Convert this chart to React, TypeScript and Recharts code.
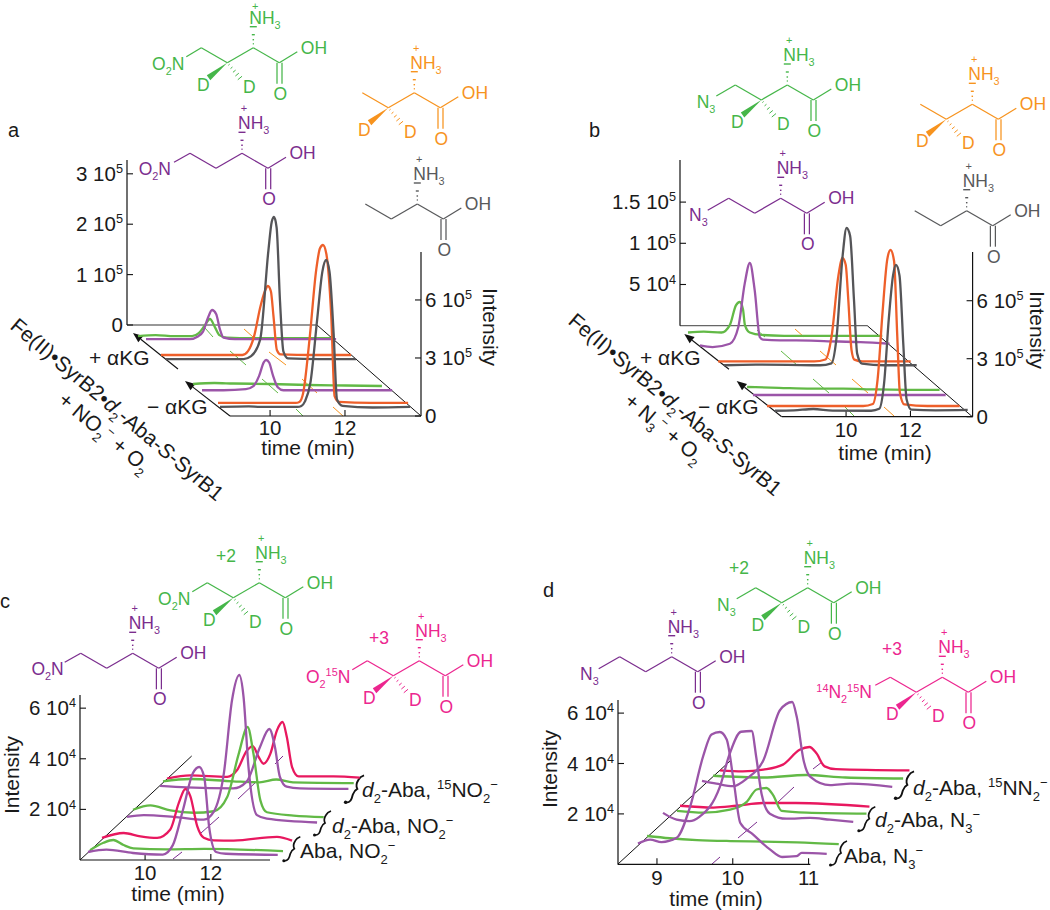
import React from "react";
import { ComposedChart, LineChart, Line, XAxis, YAxis } from "recharts";

const FONT = "'Liberation Sans', Arial, sans-serif";
const GREEN = "#62b946", ORANGE = "#ee5f2a", PURPLE = "#9b55a8", GRAY = "#555558", PINK = "#e8185f";
const M_GREEN = "#45b649", M_ORANGE = "#f7931e", M_PURPLE = "#7b2d8e", M_GRAY = "#58595b", M_PINK = "#ec268f";

// ---- panel a traces (time in min, intensity in 1e5) ----
const aGreenPlusT = [8.93, 9.4, 9.9, 10.37, 10.55, 10.7, 10.85, 10.98, 11.1, 11.3, 12, 13, 14.1];
const aGreenPlusI = [0, 0.02, 0, 0, 0.06, 0.2, 0.34, 0.18, 0.02, -0.03, -0.04, -0.04, -0.04];
const aPurplePlusT = [8.93, 9.5, 10.1, 10.3, 10.45, 10.58, 10.69, 10.8, 10.9, 11.0, 11.3, 12, 13, 14.0];
const aPurplePlusI = [0, 0, 0, 0.05, 0.15, 0.42, 0.58, 0.5, 0.2, 0.03, 0, 0, 0, 0];
const aOrangePlusT = [8.93, 10, 11.1, 11.25, 11.41, 11.58, 11.7, 11.78, 11.86, 11.93, 12.02, 12.12, 13, 14.0];
const aOrangePlusI = [0, 0, 0, 0.2, 0.95, 2.5, 3.3, 3.57, 3.3, 2, 0.26, 0.03, 0, 0];
const aGrayPlusT = [8.93, 10, 11, 11.2, 11.44, 11.66, 11.75, 11.81, 11.88, 11.97, 12.06, 12.18, 13, 14];
const aGrayPlusI = [0, 0, 0, 0.15, 1, 5.6, 7.1, 7.35, 6.8, 3, 0.4, 0.04, 0, 0];
const aGreenMinusT = [8.93, 9.5, 10, 11, 12, 13, 13.97];
const aGreenMinusI = [0, 0.02, 0.01, 0, -0.02, -0.03, -0.04];
const aPurpleMinusT = [8.93, 9.5, 10.1, 10.3, 10.45, 10.58, 10.64, 10.72, 10.82, 10.95, 11.1, 12, 13, 14];
const aPurpleMinusI = [0, 0, 0.02, 0.08, 0.28, 0.56, 0.6, 0.55, 0.3, 0.06, 0, 0, 0, 0];
const aOrangeMinusT = [8.93, 10, 11, 11.1, 11.2, 11.37, 11.55, 11.65, 11.73, 11.82, 11.95, 12.04, 12.15, 13, 14];
const aOrangeMinusI = [0, 0, 0, 0.05, 0.5, 3.28, 6.9, 8, 8.17, 7.7, 4.5, 0.35, 0.05, 0, 0];
const aGrayMinusT = [8.93, 9.7, 10, 11, 11.1, 11.2, 11.34, 11.52, 11.66, 11.76, 11.85, 11.96, 12.05, 12.2, 13, 14];
const aGrayMinusI = [0, 0.03, 0, 0, 0.05, 0.3, 1.24, 4.5, 7, 7.6, 7, 3.8, 0.38, 0.05, -0.03, 0];

// ---- panel b traces (time in min, intensity in 1e5) ----
const bGreenPlusT = [8.01, 8.5, 9.05, 9.31, 9.5, 9.62, 9.72, 9.78, 9.93, 10.3, 11, 12, 13, 14.05];
const bGreenPlusI = [0, 0.01, 0, 0.09, 0.33, 0.37, 0.28, 0.09, 0, -0.03, -0.04, -0.04, -0.04, -0.04];
const bPurplePlusT = [8.01, 8.4, 8.94, 9.2, 9.4, 9.56, 9.71, 9.87, 9.97, 10.5, 11, 12, 13, 13.9];
const bPurplePlusI = [0, -0.02, 0.02, 0.22, 0.75, 1.0, 0.67, 0.1, 0.07, 0.06, 0.06, 0.05, 0.04, 0.02];
const bOrangePlusT = [8.01, 9.5, 11, 11.35, 11.54, 11.75, 11.88, 11.98, 12.06, 12.16, 12.25, 12.5, 13, 14];
const bOrangePlusI = [0, 0, 0, 0.1, 1.29, 4.4, 5.35, 5, 3.2, 0.6, 0.09, 0, 0, 0];
const bGrayPlusT = [8.01, 9, 10, 11, 11.35, 11.5, 11.7, 11.82, 11.93, 12.05, 12.15, 12.3, 13, 14];
const bGrayPlusI = [0, 0.03, 0.02, 0, 0.1, 1.3, 5.7, 7.1, 6.7, 3.4, 0.6, 0.08, 0, 0];
const bGreenMinusT = [8.01, 9, 10, 11, 12, 13, 14];
const bGreenMinusI = [0, -0.01, -0.02, -0.02, -0.03, -0.035, -0.036];
const bPurpleMinusT = [8.01, 9, 10, 11, 12, 13, 14];
const bPurpleMinusI = [0, 0, 0, 0, 0, 0, 0];
const bOrangeMinusT = [8.01, 9.5, 11, 11.3, 11.45, 11.6, 11.75, 11.85, 11.96, 12.06, 12.14, 12.28, 13, 14];
const bOrangeMinusI = [0, 0, 0, 0.1, 1.4, 4.8, 7.6, 8.07, 7.5, 3.6, 0.7, 0.08, 0, 0];
const bGrayMinusT = [8.01, 8.6, 9.2, 9.8, 11, 11.25, 11.4, 11.55, 11.68, 11.77, 11.88, 12, 12.1, 12.25, 13, 14];
const bGrayMinusI = [0, 0.02, 0.09, 0.01, 0, 0.1, 1.4, 4.8, 7, 7.54, 7, 3.4, 0.6, 0.06, 0.02, 0.04];

// ---- panel c traces (time in min, intensity in 1e4) ----
const cPurple1T = [8.02, 8.58, 9.39, 10.3, 10.6, 10.91, 11.21, 11.41, 11.56, 11.71, 11.92, 12.22, 13.8];
const cPurple1I = [0.07, 0.16, 0.03, -0.03, 0.33, 1.72, 3.17, 3.43, 3.03, 1.06, 0.07, 0, -0.04];
const cGreen1T = [8.02, 8.43, 8.73, 9.04, 9.34, 10.35, 11.5, 13.9];
const cGreen1I = [-0.07, 0.22, 0.33, 0.13, 0, -0.04, -0.02, -0.11];
const cPink1T = [8.02, 8.68, 9.19, 9.7, 10.1, 10.36, 10.56, 10.71, 10.92, 11.12, 11.42, 12.03, 13.35, 13.81];
const cPink1I = [0.07, 0.26, 0.13, 0.07, 0.4, 1.45, 2, 1.72, 0.53, 0.07, -0.03, -0.04, 0.11, -0.04];
const cPurple2T = [8.02, 8.53, 9.44, 10.36, 10.66, 10.97, 11.22, 11.44, 11.57, 11.72, 11.98, 12.28, 13.81];
const cPurple2I = [0, 0.07, 0, -0.11, 0.2, 1.72, 4.62, 5.61, 4.75, 1.98, 0.07, -0.07, -0.22];
const cGreen2T = [8.02, 8.55, 9.16, 9.87, 10.48, 10.89, 11.24, 11.51, 11.69, 11.9, 12.1, 12.91, 13.83];
const cGreen2I = [0.03, 0.2, 0, -0.09, -0.03, 0.53, 2.24, 3.3, 2.24, 0.4, -0.07, -0.2, -0.26];
const cPurple3T = [8.02, 8.83, 10.25, 10.66, 11.07, 11.35, 11.52, 11.67, 11.88, 12.28, 13.76];
const cPurple3I = [0.03, -0.03, -0.07, 0.2, 1.58, 2.28, 1.58, 0.4, 0, -0.07, -0.09];
const cGreen3T = [8.02, 8.83, 10.15, 10.96, 11.47, 11.98, 13.83];
const cGreen3I = [0, 0.09, 0, -0.04, 0.07, -0.04, -0.07];
const cPink3T = [8.02, 8.73, 9.85, 10.15, 10.46, 10.63, 10.81, 10.96, 11.17, 11.37, 11.54, 11.67, 11.83, 12.03, 13.09, 13.89];
const cPink3I = [0, 0.13, 0.07, 0.33, 1.12, 1.29, 0.86, 0.59, 0.99, 1.91, 2.24, 1.65, 0.46, 0.09, 0.09, 0.04];

// ---- panel d traces (time in min, intensity in 1e4) ----
const dPurple1T = [8.49, 8.65, 8.8, 9.0, 9.18, 9.35, 9.46, 9.57, 9.66, 9.75, 9.84, 10.01, 10.23, 10.39, 10.58, 10.65, 10.98];
const dPurple1I = [-0.03, 0.13, 0.03, 0.2, 1.46, 3.44, 4.3, 4.4, 4.1, 2.5, 0.79, 0.33, -0.26, -0.56, -0.53, -0.4, -0.44];
const dGreen1T = [8.49, 8.79, 9.15, 9.59, 10.03, 10.47, 11.02];
const dGreen1I = [0, -0.09, -0.16, -0.2, -0.22, -0.25, -0.32];
const dPurple2T = [8.49, 8.67, 8.84, 8.97, 9.24, 9.37, 9.52, 9.66, 9.72, 9.79, 9.9, 10.12, 10.43, 10.69, 11.0];
const dPurple2I = [0.03, -0.24, -0.3, -0.13, 1.06, 2.38, 3.25, 3.28, 2.25, 0.79, 0, -0.2, -0.17, -0.24, -0.33];
const dGreen2T = [8.49, 8.84, 9.19, 9.41, 9.54, 9.67, 9.76, 9.87, 10.2, 10.99];
const dGreen2I = [0, -0.07, 0.05, 0.36, 0.85, 0.91, 0.62, 0, -0.07, -0.11];
const dPink2T = [8.49, 8.93, 9.23, 9.58, 10.02, 10.99];
const dPink2I = [0, -0.07, 0, 0.11, 0.11, -0.03];
const dPurple3T = [8.49, 8.68, 8.9, 9.08, 9.3, 9.52, 9.68, 9.74, 9.83, 9.92, 10.18, 10.45, 11.0];
const dPurple3I = [0.04, -0.07, -0.17, 0.13, 0.86, 2.85, 3.17, 2.58, 0.86, 0.2, -0.13, -0.07, -0.2];
const dGreen3T = [8.49, 9.15, 9.72, 10.24, 11.0];
const dGreen3I = [0, -0.07, 0.03, -0.07, -0.11];
const dPink3T = [8.49, 8.79, 9.06, 9.32, 9.54, 9.67, 9.76, 9.87, 10.02, 10.99];
const dPink3I = [0, -0.04, 0.03, 0.23, 0.82, 0.93, 0.69, 0.16, 0.05, 0];

// ---- axis ticks ----
const aFrontTicks = [0, 3, 6];
const aFrontLabels = ["0", "3 10^5", "6 10^5"];
const aBackTicks = [0, 1, 2, 3];
const aBackLabels = ["0", "1 10^5", "2 10^5", "3 10^5"];
const bBackTicks = [0.5, 1, 1.5];
const bBackLabels = ["5 10^4", "1 10^5", "1.5 10^5"];
const cdTicks = [2, 4, 6];
const cdLabels = ["2 10^4", "4 10^4", "6 10^4"];
const abTimeTicks = [10, 12];
const dTimeTicks = [9, 10, 11];

// ---- layout of each trace on the page (offset of its own baseline) ----
const A_PPM = 37.5, B_PPM = 32.17, C_PPM = 32.83, D_PPM = 75.8;
const layoutA = [
  { t: aGreenPlusT, v: aGreenPlusI, c: GREEN, x0: 138, y0: 336, ppm: A_PPM, ppu: 50.4 },
  { t: aPurplePlusT, v: aPurplePlusI, c: PURPLE, x0: 146, y0: 339, ppm: A_PPM, ppu: 50.4 },
  { t: aOrangePlusT, v: aOrangePlusI, c: ORANGE, x0: 161, y0: 355, ppm: A_PPM, ppu: 19.33 },
  { t: aGrayPlusT, v: aGrayPlusI, c: GRAY, x0: 166, y0: 359, ppm: A_PPM, ppu: 19.33 },
  { t: aGreenMinusT, v: aGreenMinusI, c: GREEN, x0: 193, y0: 384, ppm: A_PPM, ppu: 50.4 },
  { t: aPurpleMinusT, v: aPurpleMinusI, c: PURPLE, x0: 202, y0: 390, ppm: A_PPM, ppu: 50.4 },
  { t: aOrangeMinusT, v: aOrangeMinusI, c: ORANGE, x0: 218, y0: 403, ppm: A_PPM, ppu: 19.33 },
  { t: aGrayMinusT, v: aGrayMinusI, c: GRAY, x0: 220, y0: 407, ppm: A_PPM, ppu: 19.33 },
];
const layoutB = [
  { t: bGreenPlusT, v: bGreenPlusI, c: GREEN, x0: 688.3, y0: 332.7, ppm: B_PPM, ppu: 82.4 },
  { t: bPurplePlusT, v: bPurplePlusI, c: PURPLE, x0: 700, y0: 345, ppm: B_PPM, ppu: 82.4 },
  { t: bOrangePlusT, v: bOrangePlusI, c: ORANGE, x0: 718.3, y0: 361.7, ppm: B_PPM, ppu: 19.33 },
  { t: bGrayPlusT, v: bGrayPlusI, c: GRAY, x0: 724, y0: 365.7, ppm: B_PPM, ppu: 19.33 },
  { t: bGreenMinusT, v: bGreenMinusI, c: GREEN, x0: 747.3, y0: 387, ppm: B_PPM, ppu: 82.4 },
  { t: bPurpleMinusT, v: bPurpleMinusI, c: PURPLE, x0: 752.7, y0: 395, ppm: B_PPM, ppu: 82.4 },
  { t: bOrangeMinusT, v: bOrangeMinusI, c: ORANGE, x0: 767.3, y0: 406, ppm: B_PPM, ppu: 19.33 },
  { t: bGrayMinusT, v: bGrayMinusI, c: GRAY, x0: 775, y0: 410.7, ppm: B_PPM, ppu: 19.33 },
];
const layoutC = [
  { t: cPink3T, v: cPink3I, c: PINK, x0: 166.7, y0: 778.3, ppm: C_PPM, ppu: 25.3 },
  { t: cGreen3T, v: cGreen3I, c: GREEN, x0: 163.3, y0: 781.7, ppm: C_PPM, ppu: 25.3 },
  { t: cPurple3T, v: cPurple3I, c: PURPLE, x0: 160, y0: 786.7, ppm: C_PPM, ppu: 25.3 },
  { t: cGreen2T, v: cGreen2I, c: GREEN, x0: 132.7, y0: 810, ppm: C_PPM, ppu: 25.3 },
  { t: cPurple2T, v: cPurple2I, c: PURPLE, x0: 126.7, y0: 816.7, ppm: C_PPM, ppu: 25.3 },
  { t: cPink1T, v: cPink1I, c: PINK, x0: 101.7, y0: 840, ppm: C_PPM, ppu: 25.3 },
  { t: cGreen1T, v: cGreen1I, c: GREEN, x0: 90, y0: 848.3, ppm: C_PPM, ppu: 25.3 },
  { t: cPurple1T, v: cPurple1I, c: PURPLE, x0: 88.3, y0: 853.3, ppm: C_PPM, ppu: 25.3 },
];
const layoutD = [
  { t: dPink3T, v: dPink3I, c: PINK, x0: 720, y0: 770.7, ppm: D_PPM, ppu: 25.2 },
  { t: dGreen3T, v: dGreen3I, c: GREEN, x0: 713.3, y0: 775.7, ppm: D_PPM, ppu: 25.2 },
  { t: dPurple3T, v: dPurple3I, c: PURPLE, x0: 701.7, y0: 781.7, ppm: D_PPM, ppu: 25.2 },
  { t: dPink2T, v: dPink2I, c: PINK, x0: 680, y0: 806, ppm: D_PPM, ppu: 25.2 },
  { t: dGreen2T, v: dGreen2I, c: GREEN, x0: 676.7, y0: 810.7, ppm: D_PPM, ppu: 25.2 },
  { t: dPurple2T, v: dPurple2I, c: PURPLE, x0: 662.7, y0: 813.3, ppm: D_PPM, ppu: 25.2 },
  { t: dGreen1T, v: dGreen1I, c: GREEN, x0: 646.7, y0: 836, ppm: D_PPM, ppu: 25.2 },
  { t: dPurple1T, v: dPurple1I, c: PURPLE, x0: 637.7, y0: 843.3, ppm: D_PPM, ppu: 25.2 },
];

function Trace({ t, v, c, x0, y0, ppm, ppu }: any) {
  const rows = t.map((time: number, i: number) => ({ t: time, v: v[i] }));
  const tS = t[0], tE = t[t.length - 1];
  const vMax = Math.max(...v), vMin = Math.min(...v);
  const padT = 6 / ppm, padV = 4 / ppu;
  const width = (tE - tS) * ppm + 12, height = (vMax - vMin) * ppu + 8;
  return (
    <div style={{ position: "absolute", left: x0 - 6, top: y0 - vMax * ppu - 4, width, height }}>
      <LineChart width={width} height={height} data={rows} margin={{ top: 0, right: 0, bottom: 0, left: 0 }}>
        <XAxis hide dataKey="t" type="number" domain={[tS - padT, tE + padT]} />
        <YAxis hide type="number" domain={[vMin - padV, vMax + padV]} />
        <Line dataKey="v" type="monotone" stroke={c} strokeWidth={2.3} dot={false} isAnimationActive={false} />
      </LineChart>
    </div>
  );
}

function Rich({ x, y, text, size = 21, fill = "#1a1a1a", anchor = "start", transform }: any) {
  const parts = text.split(/(\{[^}]*\}|\[[^\]]*\]|~[^~]*~)/).filter((p: string) => p !== "");
  let off = 0;
  const spans = parts.map((p: string, i: number) => {
    let target = 0, content = p, fs = size, italic = false;
    if (p[0] === "{") { target = size * 0.28; content = p.slice(1, -1); fs = size * 0.62; }
    else if (p[0] === "[") { target = -size * 0.38; content = p.slice(1, -1); fs = size * 0.62; }
    else if (p[0] === "~") { content = p.slice(1, -1); italic = true; }
    const dy = target - off;
    off = target;
    return <tspan key={i} dy={dy} fontSize={fs} fontStyle={italic ? "italic" : "normal"}>{content}</tspan>;
  });
  return <text x={x} y={y} fontFamily={FONT} fontSize={size} fill={fill} textAnchor={anchor} transform={transform}>{spans}</text>;
}

function yTick(labels: string[], ticks: number[], side: "left" | "right") {
  return (p: any) => {
    const label = labels[ticks.indexOf(p.payload.value)] ?? "";
    const [m, e] = label.split("^");
    const txt = e ? `${m}[${e}]` : m;
    const sign = side === "left" ? 1 : -1;
    return (
      <g>
        <line x1={p.x} x2={p.x + sign * 6} y1={p.y} y2={p.y} stroke="#111" strokeWidth={1.1} />
        <Rich x={side === "left" ? p.x - 4 : p.x + 4} y={p.y + 7} text={txt} size={20.5} anchor={side === "left" ? "end" : "start"} />
      </g>
    );
  };
}

function xTick(drop: number) {
  return (p: any) => (
    <g>
      <line x1={p.x} x2={p.x} y1={p.y} y2={p.y - 6} stroke="#111" strokeWidth={1.1} />
      <text x={p.x} y={p.y + drop} textAnchor="middle" fontFamily={FONT} fontSize={20.5} fill="#1a1a1a">{p.payload.value}</text>
    </g>
  );
}

function Frame({ l, r, t, b, xDomain, yDomain, xTicks, yTicks, yLabels, side, drop, axisColor = "#111" }: any) {
  const yW = 100, xH = 50, extra = side === "left" ? 30 : 0;
  const plotW = r - l, plotH = b - t;
  const rows = [{ t: xDomain[0], v: 0 }, { t: xDomain[1], v: 0 }];
  const left = side === "left" ? l - yW : l;
  return (
    <div style={{ position: "absolute", left, top: t, width: plotW + yW + extra, height: plotH + xH }}>
      <ComposedChart width={plotW + yW + extra} height={plotH + xH} data={rows} margin={{ top: 0, right: extra, bottom: 0, left: 0 }}>
        <XAxis
          dataKey="t" type="number" domain={xDomain} ticks={xTicks ?? []} interval={0} height={xH}
          tickSize={0} tickMargin={0} tickLine={false}
          axisLine={{ stroke: axisColor, strokeWidth: 1.2 }}
          tick={xTicks ? xTick(drop) : false}
        />
        <YAxis
          type="number" domain={yDomain} ticks={yTicks} interval={0} width={yW} orientation={side}
          tickSize={0} tickMargin={0} tickLine={false}
          axisLine={{ stroke: "#111", strokeWidth: 1.2 }}
          tick={yTick(yLabels, yTicks, side)}
        />
        <Line dataKey="v" stroke="transparent" dot={false} isAnimationActive={false} />
      </ComposedChart>
    </div>
  );
}

function Mol({ x, y, color, kind, left, bondEnd, textEnd = -69, textBase = 22, plusY = -41 }: any) {
  const sw = 1.25;
  const L = (a: number, b: number, c: number, d: number, w = sw) => (
    <line x1={a} y1={b} x2={c} y2={d} stroke={color} strokeWidth={w} />
  );
  const hasD = kind === "d2N" || kind === "d2Me";
  const hasN = kind === "d2N" || kind === "N";
  const dash = [0.12, 0.3, 0.5, 0.7, 0.9];
  const fs = 17.5;
  return (
    <g transform={`translate(${x},${y})`}>
      {L(0, 0, -26, 15)}
      {L(-26, 15, -52, 0)}
      {L(0, 0, 26, 15)}
      {L(26, 15, 44, 4)}
      {L(23.7, 15, 23.7, 36)}
      {L(28.7, 15, 28.7, 36)}
      {hasN && L(-52, 0, bondEnd[0], bondEnd[1])}
      {[[-4, 1], [-8, 1.5], [-13, 3], [-21, 7]].map(([yy, w], i) => (
        <React.Fragment key={i}>{L(-w / 2, yy, w / 2, yy, 1.4)}</React.Fragment>
      ))}
      <Rich x={-4} y={-24} text="NH{3}" size={fs} fill={color} />
      <Rich x={2} y={plusY} text="+" size={11} fill={color} anchor="middle" />
      <Rich x={47.5} y={6} text="OH" size={fs} fill={color} />
      <Rich x={27} y={52} text="O" size={fs} fill={color} anchor="middle" />
      {hasN && <Rich x={textEnd} y={textBase} text={left} size={fs} fill={color} anchor="end" />}
      {hasD && (
        <>
          <polygon points="-26,15 -46.5,27.5 -43,32.5" fill={color} />
          {dash.map((f, i) => {
            const cx = -26 + 14 * f, cy = 15 + 17 * f, w = 1 + 5 * f;
            return <React.Fragment key={i}>{L(cx - 0.77 * w / 2, cy + 0.64 * w / 2, cx + 0.77 * w / 2, cy - 0.64 * w / 2, 1)}</React.Fragment>;
          })}
          <Rich x={-50} y={43} text="D" size={fs} fill={color} anchor="middle" />
          <Rich x={-4} y={45} text="D" size={fs} fill={color} anchor="middle" />
        </>
      )}
    </g>
  );
}

function Arrow({ x1, y1, x2, y2 }: any) {
  const a = Math.atan2(y2 - y1, x2 - x1), s = 10, w = 4;
  const bx = x2 - Math.cos(a) * s, by = y2 - Math.sin(a) * s;
  const px = -Math.sin(a) * w, py = Math.cos(a) * w;
  return (
    <g>
      <line x1={x1} y1={y1} x2={bx} y2={by} stroke="#111" strokeWidth={1.1} />
      <polygon points={`${x2},${y2} ${bx + px},${by + py} ${bx - px},${by - py}`} fill="#111" />
    </g>
  );
}

function Brace({ x, y, k = 1 }: any) {
  return (
    <g transform={`translate(${x},${y}) scale(${k})`}>
      <circle cx={0.5} cy={0} r={1.5} fill="#111" />
      <path d="M0 0 C5 1 6 -3 7 -7 C8 -10 9 -11 11 -12 C10 -14 10 -17 12 -20 C13 -22 14 -23 17 -24" fill="none" stroke="#111" strokeWidth={1.7} />
    </g>
  );
}

// floor tick segments, [x1, y1, x2, y2]
const floorA: [string, number[]][] = [
  [GREEN, [205, 328, 213, 337]], [GREEN, [230, 351, 246, 365]], [GREEN, [262, 379, 278, 393]], [GREEN, [296, 409, 303, 416]],
  [M_ORANGE, [244, 329, 253, 337]], [M_ORANGE, [269, 352, 286, 365]], [M_ORANGE, [302, 379, 317, 393]], [M_ORANGE, [333, 407, 343, 416]],
];
const floorB: [string, number[]][] = [
  [GREEN, [757, 330, 765, 337]], [GREEN, [781, 351, 797, 365]], [GREEN, [813, 379, 829, 393]], [GREEN, [845, 407, 854, 416]],
  [M_ORANGE, [795, 329, 804, 337]], [M_ORANGE, [820, 351, 836, 365]], [M_ORANGE, [852, 379, 868, 393]], [M_ORANGE, [884, 407, 894, 416]],
];
const floorC: number[][] = [[173, 859, 182, 852], [201, 833, 219, 817], [238, 799, 256, 782], [275, 764, 283, 756]];
const floorD: number[][] = [[712, 864, 720, 857], [738, 838, 757, 822], [777, 803, 794, 787], [813, 769, 822, 762]];

function Decor() {
  const rotA = (x: number, y: number) => `rotate(40 ${x} ${y})`;
  return (
    <svg width={1050} height={910} style={{ position: "absolute", left: 0, top: 0 }}>
      {/* panel letters */}
      <Rich x={8} y={137} text="a" size={20} />
      <Rich x={589} y={137} text="b" size={20} />
      <Rich x={0} y={608} text="c" size={20} />
      <Rich x={543} y={597} text="d" size={20} />

      {/* panel a */}
      <Mol x={253.3} y={47.7} color={M_GREEN} kind="d2N" left="O{2}N" bondEnd={[-67, 9]} plusY={-38} />
      <Mol x={414.3} y={92.7} color={M_ORANGE} kind="d2Me" />
      <Mol x={242} y={153.3} color={M_PURPLE} kind="N" left="O{2}N" bondEnd={[-68, 9]} textEnd={-71} />
      <Mol x={417.3} y={204} color={M_GRAY} kind="Me" />
      <line x1={317} y1={325} x2={421} y2={416} stroke="#111" strokeWidth={1} />
      <Arrow x1={178} y1={369} x2={133} y2={333} />
      <Arrow x1={230} y1={416} x2={185} y2={381} />
      <Rich x={89} y={365} text="+ αKG" />
      <Rich x={147} y={414} text="− αKG" />
      <Rich x={9} y={328} text="Fe(II)•SyrB2•~d~{2}-Aba-~S~-SyrB1" transform={rotA(9, 328)} />
      <Rich x={57} y={402} text="+ NO{2}[−] + O{2}" transform={rotA(57, 402)} />
      <Rich x={308} y={455} text="time (min)" anchor="middle" />
      <Rich x={483} y={327} text="Intensity" anchor="middle" transform="rotate(90 483 327)" />

      {/* panel b */}
      <Mol x={787.3} y={85} color={M_GREEN} kind="d2N" left="N{3}" bondEnd={[-71, 11]} textEnd={-72} textBase={23} />
      <Mol x={972.3} y={104.3} color={M_ORANGE} kind="d2Me" />
      <Mol x={780.7} y={198.3} color={M_PURPLE} kind="N" left="N{3}" bondEnd={[-73, 12]} textEnd={-73} textBase={23} />
      <Mol x={966.7} y={210.7} color={M_GRAY} kind="Me" />
      <line x1={867.3} y1={325.7} x2={972.3} y2={416.7} stroke="#111" strokeWidth={1} />
      <Arrow x1={729} y1={369.3} x2={684.3} y2={334} />
      <Arrow x1={781.7} y1={416.7} x2={736.7} y2={381} />
      <Rich x={640} y={365} text="+ αKG" />
      <Rich x={698} y={414} text="− αKG" />
      <Rich x={567} y={323} text="Fe(II)•SyrB2•~d~{2}-Aba-~S~-SyrB1" transform={rotA(567, 323)} />
      <Rich x={623} y={403} text="+ N{3}[−] + O{2}" transform={rotA(623, 403)} />
      <Rich x={885} y={460} text="time (min)" anchor="middle" />
      <Rich x={1030} y={330} text="Intensity" anchor="middle" transform="rotate(90 1030 330)" />

      {/* panel c */}
      <Mol x={259.3} y={582.7} color={M_GREEN} kind="d2N" left="O{2}N" bondEnd={[-67, 9]} />
      <Mol x={132.7} y={653.3} color={M_PURPLE} kind="N" left="O{2}N" bondEnd={[-68, 9]} />
      <Mol x={419.3} y={660.7} color={M_PINK} kind="d2N" left="O{2}[15]N" bondEnd={[-67, 9]} />
      <Rich x={216} y={562} text="+2" size={17.5} fill={M_GREEN} />
      <Rich x={369} y={644} text="+3" size={17.5} fill={M_PINK} />
      <line x1={80} y1={860} x2={191.7} y2={756} stroke="#111" strokeWidth={1} />
      <Rich x={178} y={901} text="time (min)" anchor="middle" />
      <Rich x={19} y={775} text="Intensity" anchor="middle" transform="rotate(-90 19 775)" />
      <Rich x={300} y={858} text="Aba, NO{2}[−]" />
      <Rich x={332} y={833} text="~d~{2}-Aba, NO{2}[−]" />
      <Rich x={362} y={797} text="~d~{2}-Aba, [15]NO{2}[−]" />
      <Brace x={283.3} y={860.7} />
      <Brace x={314} y={835} />
      <Brace x={345} y={802.3} k={1.12} />

      {/* panel d */}
      <Mol x={807.7} y={587.7} color={M_GREEN} kind="d2N" left="N{3}" bondEnd={[-71, 11]} textEnd={-72} textBase={23} />
      <Mol x={671.7} y={656.7} color={M_PURPLE} kind="N" left="N{3}" bondEnd={[-73, 12]} textEnd={-73} textBase={23} />
      <Mol x={942.3} y={677.3} color={M_PINK} kind="d2N" left="[14]N{2}[15]N" bondEnd={[-67, 8]} textEnd={-70.5} textBase={21} />
      <Rich x={729} y={574} text="+2" size={17.5} fill={M_GREEN} />
      <Rich x={882} y={655} text="+3" size={17.5} fill={M_PINK} />
      <line x1={617.7} y1={864.3} x2={730} y2={761} stroke="#111" strokeWidth={1} />
      <Rich x={716} y={906} text="time (min)" anchor="middle" />
      <Rich x={556.7} y={769} text="Intensity" anchor="middle" transform="rotate(-90 556.7 769)" />
      <Rich x={844} y={863} text="Aba, N{3}[−]" />
      <Rich x={875} y={827} text="~d~{2}-Aba, N{3}[−]" />
      <Rich x={913} y={795} text="~d~{2}-Aba, [15]NN{2}[−]" />
      <Brace x={830} y={865} />
      <Brace x={858.3} y={830.7} />
      <Brace x={895} y={798.3} k={1.12} />

      {/* floor ticks */}
      {floorA.concat(floorB).map(([c, s], i) => (
        <line key={i} x1={s[0]} y1={s[1]} x2={s[2]} y2={s[3]} stroke={c} strokeWidth={1} />
      ))}
      {floorC.concat(floorD).map((s, i) => (
        <line key={i} x1={s[0]} y1={s[1]} x2={s[2]} y2={s[3]} stroke={M_PURPLE} strokeWidth={1} />
      ))}
    </svg>
  );
}

export default function App() {
  return (
    <div style={{ position: "absolute", left: 0, top: 0, width: 1050, height: 910, background: "#fff", overflow: "hidden" }}>
      <Decor />
      <Frame l={127} r={317} t={160} b={325} xDomain={[0, 1]} yDomain={[0, 3.274]} yTicks={aBackTicks} yLabels={aBackLabels} side="left" axisColor="#333" />
      <Frame l={230} r={421} t={252} b={416} xDomain={[8.93, 14.03]} yDomain={[0, 8.48]} xTicks={abTimeTicks} yTicks={aFrontTicks} yLabels={aFrontLabels} side="right" drop={19} />
      <Frame l={679.7} r={867.3} t={160} b={325.7} xDomain={[0, 1]} yDomain={[0, 2.011]} yTicks={bBackTicks} yLabels={bBackLabels} side="left" axisColor="#666" />
      <Frame l={781.7} r={972.3} t={252} b={416.7} xDomain={[8.01, 13.93]} yDomain={[0, 8.52]} xTicks={abTimeTicks} yTicks={aFrontTicks} yLabels={aFrontLabels} side="right" drop={20} />
      <Frame l={80} r={270} t={695} b={860} xDomain={[8.02, 13.8]} yDomain={[0, 6.52]} xTicks={abTimeTicks} yTicks={cdTicks} yLabels={cdLabels} side="left" drop={20} />
      <Frame l={617.7} r={810} t={700} b={864.3} xDomain={[8.486, 11.023]} yDomain={[0, 6.52]} xTicks={dTimeTicks} yTicks={cdTicks} yLabels={cdLabels} side="left" drop={21} />
      {layoutA.concat(layoutB, layoutC, layoutD).map((tr, i) => (
        <Trace key={i} {...tr} />
      ))}
    </div>
  );
}
